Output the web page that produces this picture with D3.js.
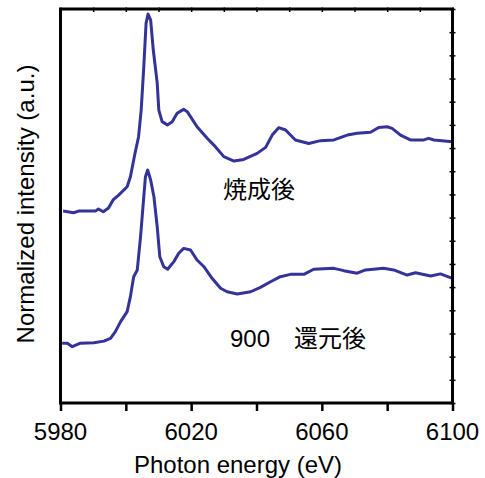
<!DOCTYPE html>
<html>
<head>
<meta charset="utf-8">
<script src="https://cdn.jsdelivr.net/npm/d3@7"></script>
<style>
  html, body { margin: 0; padding: 0; background: #fff; }
  svg { display: block; }
  text { font-family: "Liberation Sans", Arial, "Noto Sans CJK JP", sans-serif; fill: #000; }
</style>
</head>
<body>
<svg id="chart" width="485" height="478"></svg>
<script>
// ---- data ----
const calcinedEnergy = [5980.8,5984.0,5985.5,5990.7,5991.6,5993.1,5994.7,5996.1,5997.8,6000.4,6001.4,6002.7,6003.9,6004.7,6005.5,6006.2,6006.8,6007.6,6008.4,6009.6,6010.1,6011.1,6012.7,6014.2,6015.7,6017.7,6018.8,6021.8,6024.9,6027.4,6030.0,6033.1,6036.1,6040.2,6042.8,6044.8,6046.8,6048.9,6051.9,6056.0,6059.6,6063.7,6067.8,6070.8,6074.9,6077.4,6080.0,6081.5,6084.1,6087.1,6091.2,6092.7,6094.3,6100.0];
const calcinedValue = [8.28,8.21,8.28,8.28,8.37,8.25,8.41,8.76,8.97,9.33,9.76,10.70,11.49,12.64,14.51,16.39,16.78,16.52,15.23,13.81,12.64,12.14,12.00,12.14,12.50,12.67,12.57,11.92,11.42,11.06,10.63,10.44,10.51,10.77,11.03,11.56,11.88,11.78,11.35,11.20,11.32,11.35,11.56,11.64,11.68,11.89,11.92,11.85,11.56,11.35,11.35,11.42,11.35,11.27];

const reducedEnergy = [5980.5,5982.1,5983.6,5986.1,5990.2,5993.3,5995.3,5996.8,5998.4,6000.4,6001.4,6002.4,6003.5,6004.5,6005.5,6006.0,6006.7,6007.6,6008.6,6009.6,6010.4,6011.6,6012.8,6014.7,6016.2,6017.7,6019.8,6021.8,6023.9,6026.4,6029.0,6031.0,6034.1,6038.2,6041.2,6044.3,6047.3,6050.4,6054.5,6057.5,6063.7,6066.7,6070.8,6073.4,6078.9,6082.0,6086.1,6088.7,6093.3,6096.3,6100.0];
const reducedValue = [2.58,2.58,2.43,2.58,2.60,2.67,2.79,3.08,3.51,3.94,4.59,5.45,5.74,7.17,8.90,9.76,10.05,9.62,8.90,7.61,6.31,5.88,5.77,6.10,6.46,6.67,6.60,6.17,5.88,5.38,4.95,4.80,4.70,4.80,4.99,5.23,5.45,5.55,5.55,5.77,5.81,5.71,5.60,5.74,5.81,5.74,5.52,5.62,5.48,5.57,5.38];

const xMajorTicks = [5980, 6000, 6020, 6040, 6060, 6080, 6100];
const xTickLabels = [5980, 6020, 6060, 6100];
const xTopTicks = d3.range(5980, 6101, 10);
const yRightTicks = d3.range(0, 18, 1);

const labelCalcined = "焼成後";
const labelReduced = "900\u3000還元後";
const xTitle = "Photon energy (eV)";
const yTitle = "Normalized intensity (a.u.)";

// ---- layout ----
const svg = d3.select("#chart");
const L = 60.5, R = 452.5, T = 9, B = 403;
const x = d3.scaleLinear().domain([5980, 6100]).range([L, R]);
const y = d3.scaleLinear().domain([0, 17]).range([B, T]);

const lineColor = "#333399";
const line = d3.line().x(d => x(d[0])).y(d => y(d[1]));

const g = svg.append("g");

g.append("path")
  .datum(d3.zip(calcinedEnergy, calcinedValue))
  .attr("d", line).attr("fill", "none")
  .attr("stroke", lineColor).attr("stroke-width", 3)
  .attr("stroke-linejoin", "round");
g.append("path")
  .datum(d3.zip(reducedEnergy, reducedValue))
  .attr("d", line).attr("fill", "none")
  .attr("stroke", lineColor).attr("stroke-width", 3)
  .attr("stroke-linejoin", "round");

// bottom axis
const axB = svg.append("g").attr("transform", `translate(0,${B})`)
  .call(d3.axisBottom(x).tickValues(xMajorTicks).tickSize(8).tickFormat(""));
axB.select(".domain").remove();
axB.selectAll(".tick line").attr("stroke", "#000").attr("stroke-width", 2.5);

// top axis ticks (small)
const axT = svg.append("g").attr("transform", `translate(0,${T})`)
  .call(d3.axisTop(x).tickValues(xTopTicks).tickSizeInner(-3).tickSizeOuter(0).tickFormat(""));
axT.select(".domain").remove();
axT.selectAll(".tick line").attr("stroke", "#000").attr("stroke-width", 1.5).attr("y1", -1.5);

// right axis ticks
const axR = svg.append("g").attr("transform", `translate(${R},0)`)
  .call(d3.axisRight(y).tickValues(yRightTicks).tickSizeInner(3).tickSizeOuter(0).tickFormat(""));
axR.select(".domain").remove();
axR.selectAll(".tick line").attr("stroke", "#000").attr("stroke-width", 1.5).attr("x1", -3);

// frame
svg.append("rect")
  .attr("x", L).attr("y", T).attr("width", R - L).attr("height", B - T)
  .attr("fill", "none").attr("stroke", "#000").attr("stroke-width", 3);

// tick labels
svg.append("g").selectAll("text").data(xTickLabels).join("text")
  .attr("x", d => x(d)).attr("y", 440)
  .attr("text-anchor", "middle").attr("font-size", 24)
  .text(d => d);

// titles
svg.append("text").attr("x", 238).attr("y", 473)
  .attr("text-anchor", "middle").attr("font-size", 24).text(xTitle);
svg.append("text")
  .attr("transform", "translate(34,204) rotate(-90)")
  .attr("text-anchor", "middle").attr("font-size", 24).text(yTitle);

// annotations
svg.append("text").attr("x", 223).attr("y", 198).attr("font-size", 24)
  .style("font-family", "'Noto Sans CJK JP', sans-serif").text(labelCalcined);
svg.append("text").attr("x", 230).attr("y", 347).attr("font-size", 24).text(labelReduced);
</script>
</body>
</html>
